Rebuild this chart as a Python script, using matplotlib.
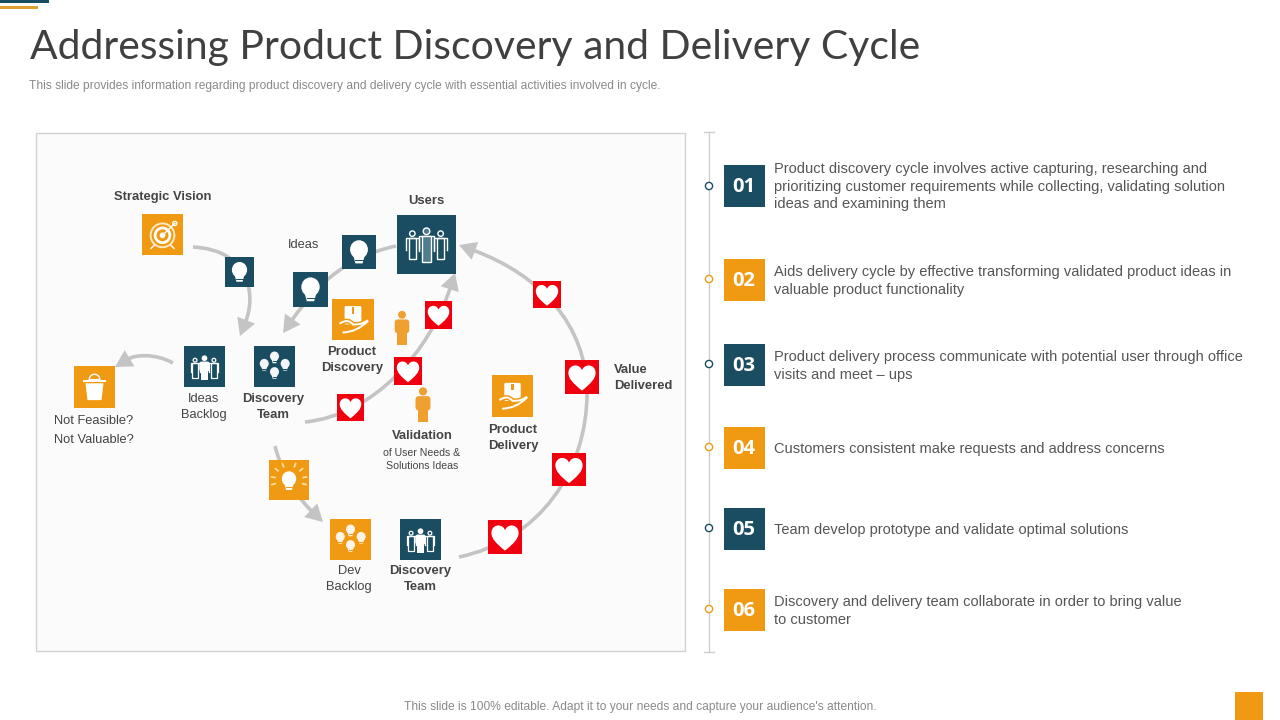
import matplotlib
matplotlib.use("Agg")
import matplotlib.pyplot as plt
from matplotlib.patches import Rectangle, Circle, PathPatch, Polygon, Ellipse, FancyBboxPatch, Wedge
from matplotlib.path import Path
import numpy as np

NAVY = "#1a4d61"; ORANGE = "#f09a13"; RED = "#f0000f"; GREY = "#c4c4c4"; DARK = "#444444"; TXT = "#555555"

TITLE = "Addressing Product Discovery and Delivery Cycle"
SUBTITLE = "This slide provides information regarding product discovery and delivery cycle with essential activities involved in cycle."
FOOTER = "This slide is 100% editable. Adapt it to your needs and capture your audience's attention."

# (left, top, right, bottom, colour, icon)
NODES = [
    (142, 214, 183, 255, ORANGE, "target"),
    (225, 257, 254, 287, NAVY, "bulb"),
    (342, 235, 376, 269, NAVY, "bulb"),
    (293, 272, 328, 307, NAVY, "bulb"),
    (332, 299, 374, 340, ORANGE, "hand"),
    (184, 346, 225, 387, NAVY, "team"),
    (254, 346, 295, 387, NAVY, "bulbs"),
    (74, 366, 115, 408, ORANGE, "bin"),
    (397, 215, 456, 274, NAVY, "users"),
    (492, 375, 533, 417, ORANGE, "hand"),
    (269, 460, 309, 500, ORANGE, "idea"),
    (330, 519, 371, 560, ORANGE, "bulbs"),
    (400, 519, 441, 560, NAVY, "team"),
]
HEARTS = [
    (337, 394, 364, 421), (394, 357, 422, 385), (425, 301, 452, 329),
    (533, 281, 561, 308), (565, 360, 599, 394), (552, 453, 586, 486), (488, 520, 522, 554),
]
PERSONS = [(402, 328, 33), (423, 405, 34)]

# curves: control points of cubic segments, last point is the arrow tip
CURVES = [
    ([(193, 247), (250, 250), (256, 295), (240, 336)], True),
    ([(396, 246), (350, 256), (320, 280), (283, 333)], True),
    ([(173, 363), (155, 353), (135, 355), (115, 367)], True),
    ([(305, 422), (375, 415), (430, 350), (455, 273)], True),
    ([(459, 557), (540, 540), (587, 470), (587, 393), (587, 325), (540, 275), (459, 245)], True),
    ([(275, 446), (282, 475), (300, 500), (323, 522)], True),
]

LABELS_BOLD = [
    ("Strategic Vision", 163, 197, "center"), ("Users", 426, 201, "center"),
    ("Discovery", 273, 399, "center"), ("Team", 273, 415, "center"),
    ("Product", 352, 352, "center"), ("Discovery", 352, 368, "center"),
    ("Value", 614, 370, "left"), ("Delivered", 614, 386, "left"),
    ("Validation", 422, 436, "center"),
    ("Product", 513, 430, "center"), ("Delivery", 513, 446, "center"),
    ("Discovery", 420, 571, "center"), ("Team", 420, 587, "center"),
]
LABELS_REG = [
    ("Ideas", 304, 245), ("Ideas", 204, 399), ("Backlog", 204, 415),
    ("Not Feasible?", 94, 421), ("Not Valuable?", 94, 440),
    ("Dev", 349, 571), ("Backlog", 349, 587),
]
LABELS_SMALL = [("of User Needs &", 422, 453), ("Solutions Ideas", 422, 466)]

STEP_NUMS = ["01", "02", "03", "04", "05", "06"]
STEP_TOPS = [165, 259, 344, 427, 508, 589]
STEP_DOTS = [186, 279, 364, 447, 528, 609]
STEP_COLS = [NAVY, ORANGE, NAVY, ORANGE, NAVY, ORANGE]
STEP_LINES = [
    [("Product discovery cycle involves active capturing, researching and", 169),
     ("prioritizing customer requirements while collecting, validating solution", 187),
     ("ideas and examining them", 204)],
    [("Aids delivery cycle by effective transforming validated product ideas in", 272),
     ("valuable product functionality", 290)],
    [("Product delivery process communicate with potential user through office", 357),
     ("visits and meet \u2013 ups", 375)],
    [("Customers consistent make requests and address concerns", 449)],
    [("Team develop prototype and validate optimal solutions", 530)],
    [("Discovery and delivery team collaborate in order to bring value", 602),
     ("to customer", 620)],
]

fig = plt.figure(figsize=(12.8, 7.2), dpi=100, facecolor="white")
ax = fig.add_axes([0, 0, 1, 1])
ax.set_xlim(0, 1280); ax.set_ylim(720, 0); ax.axis("off")


def rect(l, t, r, b, fc, ec="none", lw=0, z=3):
    ax.add_patch(Rectangle((l, t), r - l, b - t, fc=fc, ec=ec, lw=lw, zorder=z))


# header & footer
rect(0, 0, 49, 3, NAVY); rect(0, 6, 38, 9, "#e0a030")
rect(1235, 692, 1263, 720, ORANGE)
ax.text(30, 59, TITLE, fontsize=29.4, family="Lato", weight="normal", color="#404040", va="baseline", ha="left")
ax.text(29, 86, SUBTITLE, fontsize=8.62, family="Liberation Sans", color="#8a8a8a", va="center", ha="left")
ax.text(640, 707, FOOTER, fontsize=8.65, family="Liberation Sans", color="#8a8a8a", va="center", ha="center")

# panel
rect(36, 133, 684.5, 650.5, "#fbfbfb", "#d2d2d2", 1, z=1)


# curves
def draw_curve(pts, head):
    verts = list(pts)
    tip = np.array(verts[-1], float); prev = np.array(verts[-2], float)
    d = (tip - prev) / np.linalg.norm(tip - prev)
    n = np.array([-d[1], d[0]])
    hl, hw = 17, 9.5
    base = tip - d * hl
    verts[-1] = tuple(base + d * 1)
    codes = [Path.MOVETO] + [Path.CURVE4] * (len(verts) - 1)
    ax.add_patch(PathPatch(Path(verts, codes), fc="none", ec=GREY, lw=2.6, zorder=2, capstyle="butt"))
    if head:
        ax.add_patch(Polygon([tip, base + n * hw, base - n * hw], fc=GREY, ec="none", zorder=2))


for pts, head in CURVES:
    draw_curve(pts, head)


# icons
def heart(l, t, r, b):
    rect(l, t, r, b, RED)
    cx, cy, s = (l + r) / 2, (t + b) / 2, r - l
    u = [(0, .40), (-.25, .2), (-.40, .05), (-.40, -.12), (-.40, -.28), (-.28, -.34), (-.2, -.34),
         (-.1, -.34), (-.03, -.28), (0, -.2), (.03, -.28), (.1, -.34), (.2, -.34),
         (.28, -.34), (.40, -.28), (.40, -.12), (.40, .05), (.25, .2), (0, .40)]
    v = [(cx + s * x, cy + s * y) for x, y in u]
    c = [Path.MOVETO] + [Path.CURVE4] * (len(v) - 1)
    ax.add_patch(PathPatch(Path(v, c), fc="white", ec="none", zorder=4))


def bulb(cx, cy, s, fc="white", bg=NAVY):
    ax.add_patch(Ellipse((cx, cy - .07 * s), .5 * s, .52 * s, fc=fc, ec="none", zorder=4))
    ax.add_patch(Polygon([(cx - .16 * s, cy + .1 * s), (cx + .16 * s, cy + .1 * s),
                          (cx + .1 * s, cy + .32 * s), (cx - .1 * s, cy + .32 * s)], fc=fc, ec="none", zorder=4))
    ax.plot([cx - .1 * s, cx + .1 * s], [cy + .22 * s] * 2, color=bg, lw=.7, zorder=5)


def figure_solid(cx, cy, h, fc="white", z=4):
    ax.add_patch(Circle((cx, cy - .4 * h), .12 * h, fc=fc, ec="none", zorder=z))
    ax.add_patch(FancyBboxPatch((cx - .22 * h, cy - .26 * h), .44 * h, .42 * h,
                                boxstyle="round,pad=0,rounding_size=%f" % (.1 * h), fc=fc, ec="none", zorder=z))
    rect(cx - .14 * h, cy, cx + .14 * h, cy + .5 * h, fc, z=z)


def figure_outline(cx, cy, h, fc="none", ec="white", lw=.9):
    ax.add_patch(Circle((cx, cy - .4 * h), .1 * h, fc=fc, ec=ec, lw=lw, zorder=5))
    w = .24 * h
    v = [(cx - w, cy + .2 * h), (cx - w, cy - .25 * h), (cx + w, cy - .25 * h), (cx + w, cy + .2 * h)]
    ax.plot([p[0] for p in v], [p[1] for p in v], color=ec, lw=lw, zorder=5, solid_joinstyle="round")
    ax.add_patch(Rectangle((cx - .14 * h, cy - .25 * h), .28 * h, .78 * h, fc=fc, ec=ec, lw=lw, zorder=5))


def icon(kind, l, t, r, b, col):
    cx, cy, s = (l + r) / 2, (t + b) / 2, r - l
    if kind == "bulb":
        bulb(cx, cy, s * 1.05, bg=col)
    elif kind == "bulbs":
        for dx, dy in [(0, -.22), (-.25, -.04), (.26, -.04), (0, .16)]:
            bulb(cx + dx * s, cy + dy * s, s * .44, fc="#fff4e6" if col == ORANGE else "#f2f6f8", bg=col)
    elif kind == "idea":
        bulb(cx, cy + .02 * s, s * .72, bg=col)
        for a in np.deg2rad([-170, -140, -112, -68, -40, -10, 15, 165]):
            ax.plot([cx + .36 * s * np.cos(a), cx + .44 * s * np.cos(a)],
                    [cy + .36 * s * np.sin(a), cy + .44 * s * np.sin(a)], color="#ffe3a8", lw=1.2, zorder=4)
    elif kind == "team":
        figure_outline(cx - .23 * s, cy + .03 * s, .46 * s)
        figure_outline(cx + .23 * s, cy + .03 * s, .46 * s)
        figure_solid(cx, cy + .03 * s, .58 * s)
    elif kind == "users":
        figure_outline(cx - .24 * s, cy, .46 * s, lw=1)
        figure_outline(cx + .24 * s, cy, .46 * s, lw=1)
        figure_outline(cx, cy, .56 * s, fc="#4f7c8e", lw=1)
    elif kind == "bin":
        rect(cx - .28 * s, cy - .18 * s, cx + .28 * s, cy - .13 * s, "white", z=4)
        ax.add_patch(Polygon([(cx - .22 * s, cy - .09 * s), (cx + .22 * s, cy - .09 * s),
                              (cx + .17 * s, cy + .32 * s), (cx - .17 * s, cy + .32 * s)], fc="white", ec="none", zorder=4))
        ax.add_patch(Wedge((cx, cy - .18 * s), .13 * s, 180, 360, fc="none", ec="white", lw=1, zorder=4))
    elif kind == "hand":
        ax.add_patch(FancyBboxPatch((cx - .2 * s, cy - .32 * s), .4 * s, .44 * s,
                                    boxstyle="round,pad=0,rounding_size=%f" % (.03 * s), fc="white", ec="none", zorder=4))
        rect(cx - .03 * s, cy - .3 * s, cx + .03 * s, cy - .14 * s, col, z=5)
        v1 = [(cx - .32 * s, cy + .1 * s), (cx - .12 * s, cy - .04 * s), (cx, cy + .12 * s), (cx + .12 * s, cy + .12 * s),
              (cx + .2 * s, cy + .1 * s), (cx + .36 * s, cy + .02 * s)]
        c1 = [Path.MOVETO] + [Path.CURVE3] * 2 + [Path.CURVE3] * 2 + [Path.LINETO]
        ax.add_patch(PathPatch(Path(v1, c1), fc="none", ec=col, lw=3.5, zorder=5))
        ax.add_patch(PathPatch(Path(v1, c1), fc="none", ec="white", lw=1.4, zorder=6))
        v2 = [(cx - .25 * s, cy + .31 * s), (cx + .1 * s, cy + .3 * s), (cx + .36 * s, cy + .03 * s)]
        ax.add_patch(PathPatch(Path(v2, [Path.MOVETO, Path.CURVE3, Path.CURVE3]), fc="none", ec="white", lw=1.4, zorder=6))
    elif kind == "target":
        ax.add_patch(Circle((cx, cy + .02 * s), .29 * s, fc="none", ec="#ffe9c4", lw=1.4, zorder=4))
        ax.add_patch(Circle((cx, cy + .02 * s), .18 * s, fc="none", ec="white", lw=2, zorder=4))
        ax.add_patch(Circle((cx, cy + .02 * s), .07 * s, fc="white", ec="none", zorder=4))
        ax.plot([cx, cx + .3 * s], [cy + .02 * s, cy - .27 * s], color="white", lw=1, zorder=4)
        ax.add_patch(Circle((cx + .3 * s, cy - .27 * s), .05 * s, fc="none", ec="white", lw=1, zorder=4))
        ax.plot([cx - .2 * s, cx - .28 * s], [cy + .26 * s, cy + .34 * s], color="white", lw=1, zorder=4)
        ax.plot([cx + .2 * s, cx + .28 * s], [cy + .26 * s, cy + .34 * s], color="white", lw=1, zorder=4)


for l, t, r, b, col, kind in NODES:
    rect(l, t, r, b, col)
    icon(kind, l, t, r, b, col)
for h in HEARTS:
    heart(*h)
for x, y, h in PERSONS:
    figure_solid(x, y, h, fc="#f0a030")

# labels
for s, x, y, ha in LABELS_BOLD:
    ax.text(x, y, s, fontsize=9.4, weight="bold", family="Liberation Sans", color=DARK, ha=ha, va="center", zorder=6)
for s, x, y in LABELS_REG:
    ax.text(x, y, s, fontsize=9.25, family="Liberation Sans", color=DARK, ha="center", va="center", zorder=6)
for s, x, y in LABELS_SMALL:
    ax.text(x, y, s, fontsize=7.6, family="Liberation Sans", color=DARK, ha="center", va="center", zorder=6)

# timeline
ax.plot([708.5, 708.5], [132, 652], color="#cfcfcf", lw=1, zorder=1)
ax.plot([704, 714], [132, 132], color="#cfcfcf", lw=1, zorder=1)
ax.plot([704, 714], [652, 652], color="#cfcfcf", lw=1, zorder=1)
for num, top, dot, col, lines in zip(STEP_NUMS, STEP_TOPS, STEP_DOTS, STEP_COLS, STEP_LINES):
    ax.add_patch(Circle((709, dot), 3.6, fc="white", ec=col, lw=1, zorder=3))
    rect(724, top, 765, top + 41.5, col)
    ax.text(744, top + 22, num, fontsize=14.5, weight="bold", family="Open Sans", color="white",
            ha="center", va="center", zorder=4)
    for s, y in lines:
        ax.text(774, y, s, fontsize=10.5, family="Liberation Sans", color=TXT, ha="left", va="center", zorder=4)

fig.savefig("out.png", dpi=100)
